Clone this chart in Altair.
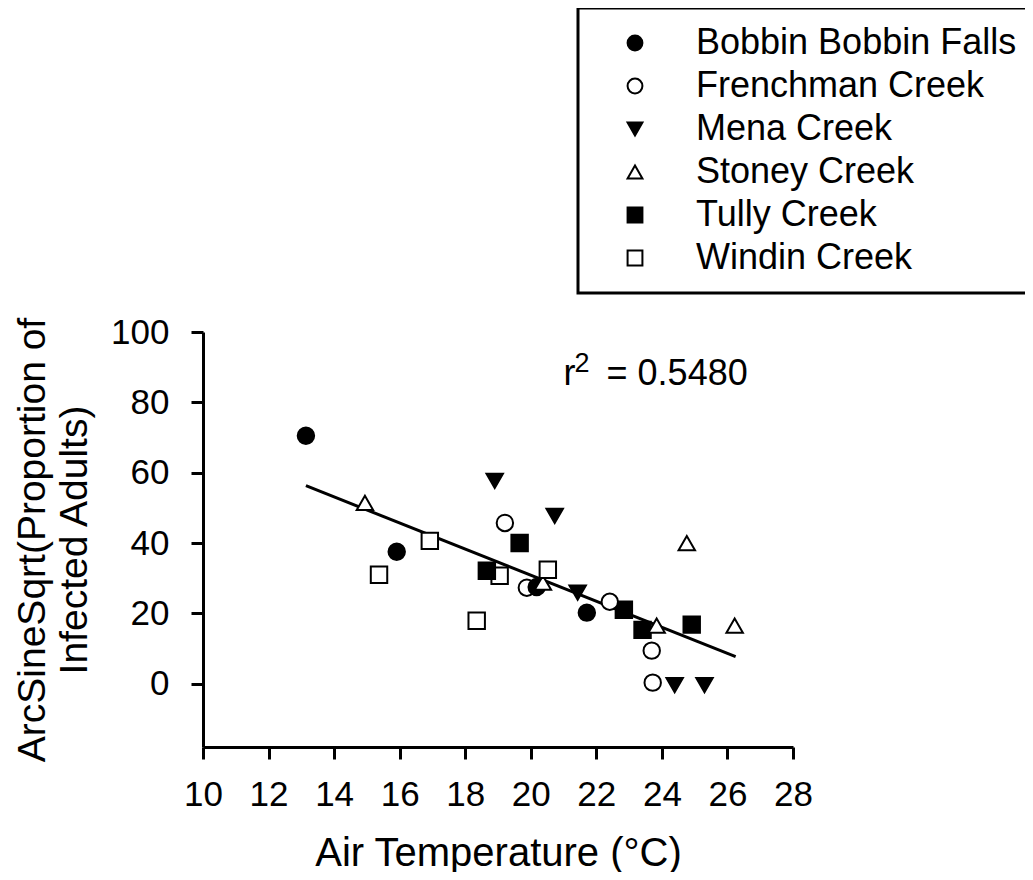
import altair as alt
import pandas as pd

FONT = "Liberation Sans"

sites = ["Bobbin Bobbin Falls", "Frenchman Creek", "Mena Creek",
         "Stoney Creek", "Tully Creek", "Windin Creek"]
shapes = ["circle", "circle", "triangle-down", "triangle-up", "square", "square"]
fills = ["black", "white", "black", "white", "black", "white"]
strokes = ["black"] * 6

bobbin_x = [20.18, 13.14, 15.91, 21.71]
bobbin_y = [27.5, 70.5, 37.5, 20.2]
frenchman_x = [19.21, 19.88, 22.41, 23.69, 23.72]
frenchman_y = [45.7, 27.3, 23.3, 9.4, 0.3]
mena_x = [18.90, 20.73, 21.43, 24.39, 25.30]
mena_y = [57.7, 47.7, 25.9, -0.4, -0.4]
stoney_x = [14.94, 20.37, 23.84, 24.76, 26.22]
stoney_y = [51.4, 28.7, 16.5, 40.0, 16.5]
tully_x = [18.66, 19.66, 22.84, 23.41, 24.91]
tully_y = [32.1, 40.0, 21.0, 15.3, 16.8]
windin_x = [15.37, 16.92, 18.35, 19.05, 20.52]
windin_y = [31.0, 40.6, 17.9, 30.7, 32.4]

fit_x = [13.14, 26.25]
fit_y = [56.3, 7.7]

x_ticks = [10, 12, 14, 16, 18, 20, 22, 24, 26, 28]
y_ticks = [0, 20, 40, 60, 80, 100]

r2_x = [21.0]
r2_y = [85.0]
r2_value = "= 0.5480"

rows = []
for name, xs, ys in [
    (sites[0], bobbin_x, bobbin_y),
    (sites[1], frenchman_x, frenchman_y),
    (sites[2], mena_x, mena_y),
    (sites[3], stoney_x, stoney_y),
    (sites[4], tully_x, tully_y),
    (sites[5], windin_x, windin_y),
]:
    for xv, yv in zip(xs, ys):
        rows.append({"site": name, "temp": xv, "asin": yv})
df = pd.DataFrame(rows)
fit_df = pd.DataFrame({"temp": fit_x, "asin": fit_y})
ann_df = pd.DataFrame({"temp": r2_x, "asin": r2_y})

xscale = alt.Scale(domain=[10, 28], nice=False, zero=False)
yscale = alt.Scale(domain=[-18, 100], nice=False, zero=False)

xenc = alt.X("temp:Q", scale=xscale,
             axis=alt.Axis(values=x_ticks, title="Air Temperature (°C)",
                           labelFlush=False, labelOverlap=False,
                           labelPadding=18, titlePadding=21))
yenc = alt.Y("asin:Q", scale=yscale,
             axis=alt.Axis(values=y_ticks,
                           title=["ArcSineSqrt(Proportion of", "Infected Adults)"],
                           labelFlush=False, labelOverlap=False, titleFontSize=39,
                           labelPadding=22, titlePadding=16, titleLineHeight=42))

line = alt.Chart(fit_df).mark_line(color="black", strokeWidth=3).encode(x=xenc, y=yenc)

legend = alt.Legend(orient="none", legendX=375, legendY=-324,
                    title=None, strokeColor="black",
                    padding=17, labelFontSize=36, labelFont=FONT,
                    labelColor="black", symbolOffset=22,
                    labelOffset=43, rowPadding=7,
                    symbolSize=220, symbolStrokeWidth=2, labelLimit=700)

points = alt.Chart(df).mark_point(filled=True, strokeWidth=2,
                                  opacity=1, size=270).encode(
    x="temp:Q",
    y="asin:Q",
    shape=alt.Shape("site:N", scale=alt.Scale(domain=sites, range=shapes),
                    legend=legend),
    fill=alt.Fill("site:N", scale=alt.Scale(domain=sites, range=fills),
                  legend=legend),
    stroke=alt.Stroke("site:N", scale=alt.Scale(domain=sites, range=strokes),
                      legend=legend),
    order=alt.Order("asin:Q"),
)

r_txt = alt.Chart(ann_df).mark_text(text="r", font=FONT, fontSize=36, align="left",
                                    baseline="alphabetic", color="black").encode(
    x="temp:Q", y="asin:Q")
two_txt = alt.Chart(ann_df).mark_text(text="2", font=FONT, fontSize=27, align="left",
                                      baseline="alphabetic", color="black",
                                      dx=11, dy=-13).encode(x="temp:Q", y="asin:Q")
val_txt = alt.Chart(ann_df).mark_text(text=r2_value, font=FONT, fontSize=36,
                                      align="left", baseline="alphabetic",
                                      color="black", dx=43).encode(x="temp:Q", y="asin:Q")

chart = alt.layer(line, points, r_txt, two_txt, val_txt).properties(
    width=590, height=415,
    autosize=alt.AutoSizeParams(type="none"),
    padding={"left": 195, "top": 324, "right": 232, "bottom": 125},
    background="white",
).configure_view(strokeWidth=0).configure_axis(
    grid=False, domainColor="black", domainWidth=3, tickColor="black",
    tickWidth=3, tickSize=12, labelFont=FONT, labelFontSize=35, labelColor="black",
    titleFont=FONT, titleFontSize=40, titleFontWeight="normal", titleColor="black",
).configure_legend(strokeWidth=3)

chart.save("out.html", embed_options={"renderer": "svg", "actions": False})
